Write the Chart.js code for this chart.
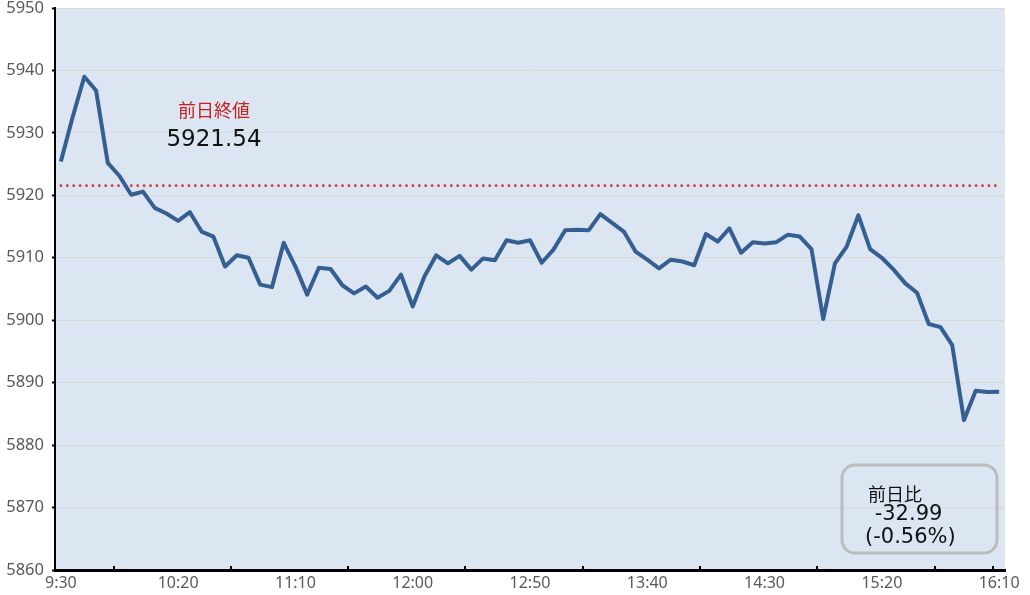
<!DOCTYPE html>
<html>
<head>
<meta charset="utf-8">
<script src="https://cdn.jsdelivr.net/npm/chart.js@4/dist/chart.umd.min.js"></script>
<style>
  html, body { margin: 0; padding: 0; background: #fff; }
  #wrap { width: 1030px; height: 595px; }
</style>
</head>
<body>
<div id="wrap"><canvas id="c"></canvas></div>
<script>
// 5-minute bars, 9:30 .. 16:10
const times = [];
for (let m = 9 * 60 + 30; m <= 16 * 60 + 10; m += 5) {
  times.push(Math.floor(m / 60) + ':' + String(m % 60).padStart(2, '0'));
}

const prices = [
  5925.4, 5932.5, 5939.0, 5936.8, 5925.2, 5923.1, 5920.1, 5920.6, 5918.0, 5917.1,
  5915.9, 5917.3, 5914.2, 5913.4, 5908.6, 5910.4, 5910.0, 5905.7, 5905.3, 5912.4,
  5908.6, 5904.1, 5908.4, 5908.2, 5905.6, 5904.3, 5905.4, 5903.6, 5904.7, 5907.3,
  5902.2, 5907.0, 5910.4, 5909.1, 5910.3, 5908.1, 5909.9, 5909.6, 5912.8, 5912.4,
  5912.8, 5909.2, 5911.3, 5914.4, 5914.5, 5914.4, 5917.0, 5915.6, 5914.2, 5911.0,
  5909.7, 5908.3, 5909.7, 5909.4, 5908.8, 5913.8, 5912.6, 5914.7, 5910.8, 5912.5,
  5912.3, 5912.5, 5913.7, 5913.4, 5911.4, 5900.2, 5909.1, 5911.8, 5916.8, 5911.4,
  5910.0, 5908.1, 5905.9, 5904.4, 5899.4, 5898.9, 5896.0, 5884.0, 5888.7, 5888.5,
  5888.55
];

const prevClose   = 5921.54;
const prevLabel   = '前日終値';
const changeLines = ['前日比', ' -32.99', '(-0.56%)'];

const yMin = 5860, yMax = 5950, yStep = 10;
const labelEvery = 10;
const tickBoundaries = [5, 15, 25, 35, 45, 55, 65, 75, 80];

const FONT = '"Noto Sans", "Noto Sans CJK JP", sans-serif';
const WIDE = '"DejaVu Sans", "Noto Sans", sans-serif';
const JP   = '"Noto Sans CJK JP", "Noto Sans", sans-serif';

const plotBg = {
  id: 'plotBg',
  beforeDraw(chart) {
    const { ctx, chartArea: a } = chart;
    ctx.save();
    ctx.fillStyle = '#dce6f2';
    ctx.fillRect(a.left, a.top, a.right - a.left, a.bottom - a.top);
    ctx.restore();
  },
};

const insideTicks = {
  id: 'insideTicks',
  afterDraw(chart) {
    const { ctx, chartArea: a } = chart;
    const xs = chart.scales.x;
    ctx.save();
    ctx.strokeStyle = '#000';
    ctx.lineWidth = 2;
    tickBoundaries.forEach(k => {
      const x = Math.round((xs.getPixelForValue(k - 1) + xs.getPixelForValue(k)) / 2);
      ctx.beginPath();
      ctx.moveTo(x, a.bottom);
      ctx.lineTo(x, a.bottom - 4);
      ctx.stroke();
    });
    ctx.restore();
  },
};

const notes = {
  id: 'notes',
  afterDatasetsDraw(chart) {
    const { ctx } = chart;
    ctx.save();
    ctx.textAlign = 'center';
    ctx.textBaseline = 'middle';
    ctx.fillStyle = '#c8201e';
    ctx.font = '18px ' + JP;
    ctx.fillText(prevLabel, 214, 110);
    ctx.fillStyle = '#111';
    ctx.font = '23px ' + WIDE;
    ctx.fillText(prevClose.toFixed(2), 214, 140);

    // change box, bottom right
    const bx = 842, by = 465, bw = 155, bh = 88, r = 13;
    ctx.strokeStyle = '#babcbf';
    ctx.lineWidth = 3;
    ctx.beginPath();
    ctx.roundRect(bx, by, bw, bh, r);
    ctx.stroke();
    ctx.fillStyle = '#111';
    ctx.textAlign = 'left';
    ctx.font = '18px ' + JP;
    ctx.fillText(changeLines[0], 868, 494);
    ctx.font = '21px ' + WIDE;
    ctx.fillText(changeLines[1], 868, 515);
    ctx.fillText(changeLines[2], 865, 538);
    ctx.restore();
  },
};

new Chart(document.getElementById('c'), {
  type: 'line',
  data: {
    labels: times,
    datasets: [
      {
        data: prices,
        borderColor: '#355f92',
        borderWidth: 4,
        pointRadius: 0,
        tension: 0,
        borderJoinStyle: 'round',
      },
      {
        data: times.map(() => prevClose),
        borderColor: '#d2413b',
        borderWidth: 2.8,
        borderDash: [0.1, 6.3],
        borderCapStyle: 'round',
        pointRadius: 0,
      },
    ],
  },
  options: {
    responsive: true,
    maintainAspectRatio: false,
    animation: false,
    layout: { padding: { top: 8, right: 25, left: 0, bottom: 0 } },
    plugins: { legend: { display: false }, tooltip: { enabled: false } },
    scales: {
      x: {
        type: 'category',
        offset: true,
        grid: { display: false, drawTicks: false },
        border: { color: '#000', width: 3 },
        ticks: {
          autoSkip: false,
          maxRotation: 0,
          padding: 4,
          color: '#595959',
          font: { family: FONT, size: 16 },
          callback: (v, i) => (i % labelEvery === 0 ? times[i] : ''),
        },
        afterFit: s => { s.height = 25; },
      },
      y: {
        min: yMin,
        max: yMax,
        grid: { color: '#d9d9d9', lineWidth: 1, drawTicks: true, tickLength: 3, tickColor: '#000', tickWidth: 2 },
        border: { color: '#000', width: 2 },
        ticks: {
          stepSize: yStep,
          padding: 8,
          color: '#595959',
          font: { family: FONT, size: 16.5 },
          callback: v => String(v),
        },
        afterFit: s => { s.width = 55; s.paddingTop = 0; s.paddingBottom = 0; },
      },
    },
  },
  plugins: [plotBg, insideTicks, notes],
});
</script>
</body>
</html>
